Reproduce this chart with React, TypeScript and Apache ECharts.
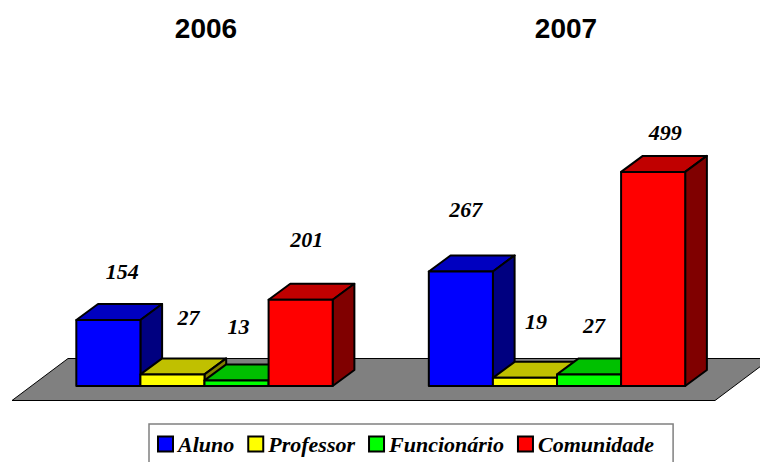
import React, { useEffect, useRef } from "react";
import * as echarts from "echarts";

const years = ["2006", "2007"];
const seriesNames = ["Aluno", "Professor", "Funcionário", "Comunidade"];
const aluno = [154, 267];
const professor = [27, 19];
const funcionario = [13, 27];
const comunidade = [201, 499];

const seriesValues = [aluno, professor, funcionario, comunidade];
const faceColors = ["#0000ff", "#ffff00", "#00ff00", "#ff0000"];
const topColors = ["#0000c0", "#c0c000", "#00c000", "#c00000"];
const sideColors = ["#000080", "#808000", "#008000", "#800000"];

// Label placement relative to the front-top centre of each bar: [series][year] = [dx, dy]
const labelOffsets = [
  [[14, -48], [5, -62]],
  [[16, -57], [11, -56]],
  [[2, -54], [5, -49]],
  [[6, -60], [12, -39]],
];

const DEPTH_X = 21.7;
const DEPTH_Y = 16;
const STROKE = "#000";
const LINE = 2;
const AXIS_MAX = 600;
const PX_PER_UNIT = 0.429;
const BASE_Y = 386;

const renderBar = (si: number) => (params: any, api: any) => {
  const cat = api.value(0);
  const val = api.value(1);
  const base = api.coord([cat, 0]);
  const top = api.coord([cat, val]);
  const w = api.size([1, 0])[0] / 5.5;
  const x0 = base[0] + (si - 2) * w;
  const x1 = x0 + w;
  const y0 = top[1];
  const y1 = base[1];
  const off = labelOffsets[si][params.dataIndex];
  const lineStyle = { stroke: STROKE, lineWidth: LINE, lineJoin: "round" };
  return {
    type: "group",
    children: [
      {
        type: "polygon",
        shape: { points: [[x0, y0], [x1, y0], [x1 + DEPTH_X, y0 - DEPTH_Y], [x0 + DEPTH_X, y0 - DEPTH_Y]] },
        style: { fill: topColors[si], ...lineStyle },
      },
      {
        type: "polygon",
        shape: { points: [[x1, y0], [x1 + DEPTH_X, y0 - DEPTH_Y], [x1 + DEPTH_X, y1 - DEPTH_Y], [x1, y1]] },
        style: { fill: sideColors[si], ...lineStyle },
      },
      {
        type: "rect",
        shape: { x: x0, y: y0, width: w, height: y1 - y0 },
        style: { fill: faceColors[si], ...lineStyle },
      },
      {
        type: "text",
        x: (x0 + x1) / 2 + off[0],
        y: y0 + off[1],
        style: {
          text: String(val),
          fill: "#000",
          font: "italic bold 22px 'Liberation Serif'",
          textAlign: "center",
          textVerticalAlign: "middle",
        },
      },
    ],
  };
};

export default function App() {
  const ref = useRef<HTMLDivElement>(null);
  useEffect(() => {
    document.body.style.margin = "0";
    const chart = echarts.init(ref.current!, null, { renderer: "svg" });
    chart.setOption({
      animation: false,
      backgroundColor: "#fff",
      title: [
        { text: years[0], left: 206, top: 14, textAlign: "center", padding: 0,
          textStyle: { fontFamily: "Liberation Sans", fontWeight: "bold", fontSize: 28, color: "#000" } },
        { text: years[1], left: 566, top: 14, textAlign: "center", padding: 0,
          textStyle: { fontFamily: "Liberation Sans", fontWeight: "bold", fontSize: 28, color: "#000" } },
      ],
      grid: {
        left: 28.25,
        width: 705,
        top: BASE_Y - AXIS_MAX * PX_PER_UNIT,
        height: AXIS_MAX * PX_PER_UNIT,
      },
      xAxis: { type: "category", data: years, show: false },
      yAxis: { type: "value", min: 0, max: AXIS_MAX, show: false },
      legend: {
        left: 149,
        top: 424,
        orient: "horizontal",
        data: seriesNames,
        icon: "rect",
        itemWidth: 15,
        itemHeight: 15,
        itemGap: 13,
        padding: [9, 19, 30, 8],
        borderColor: "#808080",
        borderWidth: 1.5,
        selectedMode: false,
        textStyle: {
          fontFamily: "Liberation Serif",
          fontStyle: "italic",
          fontWeight: "bold",
          fontSize: 22,
          color: "#000",
        },
      },
      graphic: [
        {
          type: "polygon",
          z: 0,
          shape: { points: [[12, 400.5], [68, 358.5], [771, 358.5], [715, 400.5]] },
          style: { fill: "#808080", stroke: "#000", lineWidth: 1 },
        },
      ],
      series: seriesNames.map((name, si) => ({
        type: "custom",
        name,
        clip: false,
        z: 2 + si,
        renderItem: renderBar(si),
        encode: { x: 0, y: 1 },
        itemStyle: { color: faceColors[si], borderColor: "#000", borderWidth: 1.5 },
        data: seriesValues[si].map((v, i) => [i, v]),
      })),
    });
    return () => chart.dispose();
  }, []);
  return <div ref={ref} style={{ width: 760, height: 462 }} />;
}
